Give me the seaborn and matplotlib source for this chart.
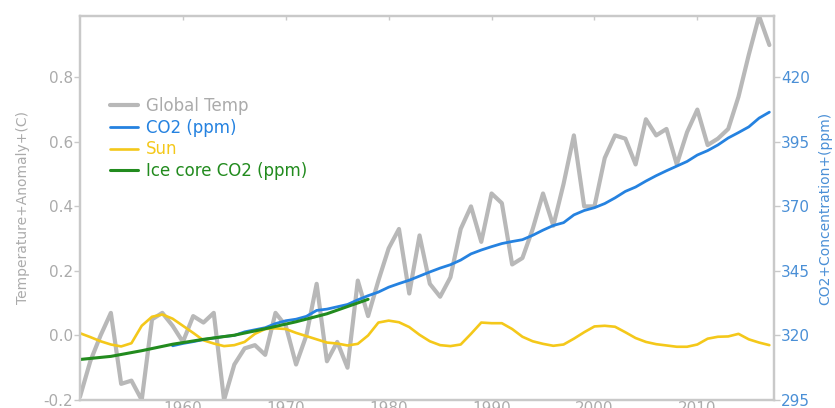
import matplotlib
matplotlib.use("Agg")
import matplotlib.pyplot as plt
import seaborn as sns
import pandas as pd

# Annual series
temp_years = list(range(1950, 2018))
temp_anomaly = [
    -0.19, -0.08, 0.00, 0.07, -0.15, -0.14, -0.20, 0.05, 0.07, 0.03,
    -0.02, 0.06, 0.04, 0.07, -0.20, -0.09, -0.04, -0.03, -0.06, 0.07,
    0.03, -0.09, 0.00, 0.16, -0.08, -0.02, -0.10, 0.17, 0.06, 0.17,
    0.27, 0.33, 0.13, 0.31, 0.16, 0.12, 0.18, 0.33, 0.40, 0.29,
    0.44, 0.41, 0.22, 0.24, 0.33, 0.44, 0.34, 0.47, 0.62, 0.40,
    0.40, 0.55, 0.62, 0.61, 0.53, 0.67, 0.62, 0.64, 0.53, 0.63,
    0.70, 0.59, 0.61, 0.64, 0.74, 0.87, 0.99, 0.90,
]

sun_years = list(range(1950, 2018))
sun_index = [
    0.007, -0.005, -0.018, -0.028, -0.034, -0.024, 0.030, 0.058, 0.065, 0.052,
    0.030, 0.008, -0.015, -0.025, -0.033, -0.030, -0.020, 0.005, 0.020, 0.022,
    0.020, 0.008, -0.002, -0.012, -0.022, -0.025, -0.031, -0.026, 0.000, 0.040,
    0.046, 0.041, 0.026, 0.002, -0.018, -0.030, -0.033, -0.028, 0.005, 0.040,
    0.038, 0.038, 0.020, -0.004, -0.018, -0.026, -0.032, -0.028, -0.010, 0.010,
    0.028, 0.030, 0.027, 0.010, -0.008, -0.020, -0.027, -0.031, -0.035, -0.035,
    -0.028, -0.010, -0.004, -0.003, 0.005, -0.012, -0.022, -0.030,
]

co2_years = list(range(1959, 2018))
co2_ppm = [
    316.0, 316.9, 317.6, 318.4, 319.0, 319.6, 320.0, 321.4, 322.2, 323.0,
    324.6, 325.7, 326.3, 327.4, 329.7, 330.2, 331.1, 332.0, 333.8, 335.4,
    336.8, 338.7, 340.1, 341.4, 343.0, 344.6, 346.1, 347.4, 349.2, 351.6,
    353.1, 354.4, 355.6, 356.4, 357.1, 358.8, 360.8, 362.6, 363.7, 366.7,
    368.4, 369.5, 371.1, 373.3, 375.8, 377.5, 379.8, 381.9, 383.8, 385.6,
    387.4, 389.9, 391.6, 393.8, 396.5, 398.6, 400.8, 404.2, 406.5,
]

ice_years = [1950, 1953, 1956, 1959, 1962, 1965, 1968, 1971, 1974, 1977, 1978]
ice_co2 = [310.7, 311.9, 314.1, 316.6, 318.5, 320.1, 322.6, 325.3, 328.4, 332.6, 334.0]

x_ticks = [1960, 1970, 1980, 1990, 2000, 2010]
left_ticks = [-0.2, 0.0, 0.2, 0.4, 0.6, 0.8]
right_ticks = [295, 320, 345, 370, 395, 420]

C_GRAY = "#b8b8b8"
C_BLUE = "#2582e0"
C_SUN = "#f4c81a"
C_GREEN = "#228b1e"
C_SPINE = "#c9c9c9"
C_TICK = "#ababab"
C_BLUE_TXT = "#4a8fd6"

sns.set_style("white")
plt.rcParams["font.family"] = ["DejaVu Sans"]

fig = plt.figure(figsize=(8.35, 4.08), dpi=100)
ax = fig.add_axes([80 / 835, 1 - 400 / 408, 694 / 835, 384 / 408])
ax2 = ax.twinx()

df_temp = pd.DataFrame({"year": temp_years, "value": temp_anomaly})
df_sun = pd.DataFrame({"year": sun_years, "value": sun_index})
df_co2 = pd.DataFrame({"year": co2_years, "value": co2_ppm})
df_ice = pd.DataFrame({"year": ice_years, "value": ice_co2})

sns.lineplot(data=df_temp, x="year", y="value", ax=ax, color=C_GRAY,
             linewidth=3.0, label="Global Temp", legend=False)
sns.lineplot(data=df_sun, x="year", y="value", ax=ax, color=C_SUN,
             linewidth=1.9, label="Sun", legend=False)
sns.lineplot(data=df_co2, x="year", y="value", ax=ax2, color=C_BLUE,
             linewidth=2.0, label="CO2 (ppm)", legend=False)
sns.lineplot(data=df_ice, x="year", y="value", ax=ax2, color=C_GREEN,
             linewidth=2.2, label="Ice core CO2 (ppm)", legend=False)

ax.set_xlim(1950, 2017.45)
ax.set_ylim(-0.2, 0.99)
ax2.set_ylim(295, 295 + (0.99 + 0.2) * 125)

ax.set_xticks(x_ticks)
ax.set_xticklabels([str(t) for t in x_ticks])
ax.set_yticks(left_ticks)
ax.set_yticklabels([f"{t:.1f}" for t in left_ticks])
ax2.set_yticks(right_ticks)
ax2.set_yticklabels([str(t) for t in right_ticks])

ax.set_xlabel("")
ax.set_ylabel("Temperature+Anomaly+(C)", color=C_TICK, fontsize=10, labelpad=10)
ax2.set_ylabel("CO2+Concentration+(ppm)", color=C_BLUE_TXT, fontsize=10, labelpad=6)

ax.tick_params(axis="x", which="both", bottom=False, top=True, direction="in",
               length=3, width=1, color=C_SPINE, labelsize=11, labelcolor=C_TICK, pad=0.5)
ax.tick_params(axis="y", left=True, direction="out", length=4, width=1,
               color=C_SPINE, labelsize=11, labelcolor=C_TICK, pad=1)
ax2.tick_params(axis="y", right=True, direction="out", length=4, width=1,
                color=C_SPINE, labelsize=11, labelcolor=C_BLUE_TXT, pad=1)

for a in (ax, ax2):
    for s in a.spines.values():
        s.set_visible(True)
        s.set_color(C_SPINE)
        s.set_linewidth(1.6)
    a.grid(False)

handles1, labels1 = ax.get_legend_handles_labels()
handles2, labels2 = ax2.get_legend_handles_labels()
hmap = dict(zip(labels1 + labels2, handles1 + handles2))
order = ["Global Temp", "CO2 (ppm)", "Sun", "Ice core CO2 (ppm)"]
leg = ax2.legend([hmap[k] for k in order], order, loc="upper left",
                 bbox_to_anchor=(110 / 835, 1 - 97 / 408), bbox_transform=fig.transFigure,
                 frameon=False, fontsize=12, handlelength=1.65, handletextpad=0.5,
                 labelspacing=0.22, borderpad=0, borderaxespad=0)
for txt, col in zip(leg.get_texts(), [C_TICK, C_BLUE, C_SUN, C_GREEN]):
    txt.set_color(col)

fig.savefig("out.png", dpi=100)
